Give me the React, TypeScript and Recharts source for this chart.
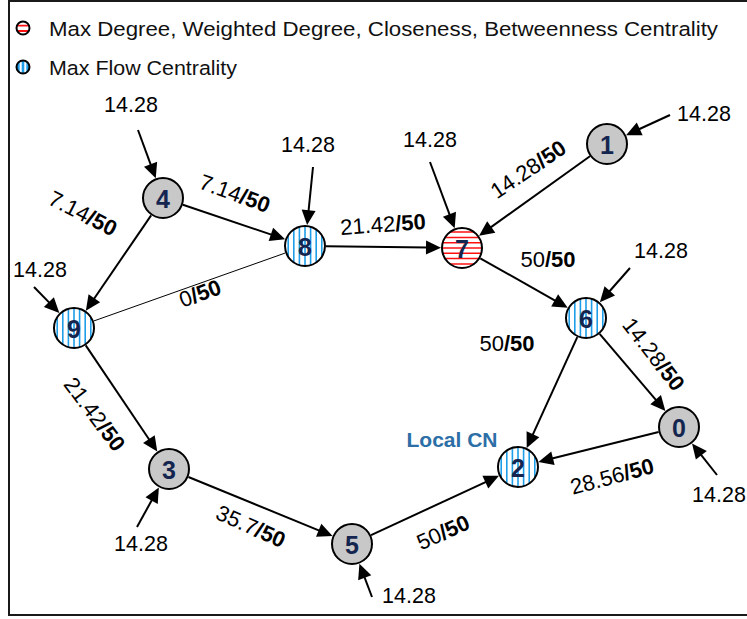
import React from 'react';
import { ScatterChart, Scatter, XAxis, YAxis, ReferenceLine } from 'recharts';

// ---------------- DATA ----------------
const nodeIds = ['0', '1', '2', '3', '4', '5', '6', '7', '8', '9'];
const nodeX = [679, 607, 518, 169, 163, 352, 586, 462, 305, 74];
const nodeY = [427, 144, 467, 469, 198, 544, 318, 248, 246, 328];
// 'degree' = max degree/weighted degree/closeness/betweenness, 'flow' = max flow centrality
const nodeRole = ['none', 'none', 'flow', 'none', 'none', 'none', 'flow', 'degree', 'flow', 'flow'];

const edgeFrom = [1, 4, 4, 8, 8, 7, 6, 6, 9, 3, 5, 0];
const edgeTo = [7, 8, 9, 7, 9, 6, 2, 0, 3, 5, 2, 2];
const edgeFlow = ['14.28', '7.14', '7.14', '21.42', '0', '50', '50', '14.28', '21.42', '35.7', '50', '28.56'];
const edgeCapacity = ['50', '50', '50', '50', '50', '50', '50', '50', '50', '50', '50', '50'];
const edgeDirected = [true, true, true, true, false, true, true, true, true, true, true, true];

const inputNodes = [0, 1, 3, 4, 5, 6, 7, 8, 9];
const inputFlow = ['14.28', '14.28', '14.28', '14.28', '14.28', '14.28', '14.28', '14.28', '14.28'];

const legendLabels = ['Max Degree, Weighted Degree, Closeness, Betweenness Centrality', 'Max Flow Centrality'];
const legendRoles = ['degree', 'flow'];
const sinkLabel = 'Local CN';
const sinkNode = 2;

// ---------------- LAYOUT ----------------
const edgeLabelLayout = [
  { x: 528, y: 169, a: -34 },
  { x: 235, y: 193, a: 20 },
  { x: 83, y: 213, a: 27 },
  { x: 383, y: 224, a: -4 },
  { x: 200, y: 293, a: -20 },
  { x: 548, y: 259, a: 0 },
  { x: 507, y: 343, a: 0 },
  { x: 654, y: 354, a: 52 },
  { x: 95, y: 414, a: 53 },
  { x: 251, y: 526, a: 24 },
  { x: 443, y: 532, a: -24 },
  { x: 612, y: 476, a: -15 },
];
const inputLayout = [
  { sx: 717, sy: 475, lx: 719, ly: 495 },
  { sx: 670, sy: 115, lx: 704, ly: 114 },
  { sx: 137, sy: 527, lx: 141, ly: 544 },
  { sx: 138, sy: 130, lx: 131, ly: 105 },
  { sx: 372, sy: 597, lx: 409, ly: 596 },
  { sx: 630, sy: 268, lx: 661, ly: 251 },
  { sx: 430, sy: 162, lx: 430, ly: 140 },
  { sx: 313, sy: 167, lx: 308, ly: 145 },
  { sx: 34, sy: 287, lx: 40, ly: 270 },
];
const legendLayout = [
  { x: 23, y: 28, w: 669 },
  { x: 23, y: 67, w: 188 },
];
const sinkLabelLayout = { x: 452, y: 439 };

const W = 747;
const H = 619;
const R = 20;
const FONT = 'Arial, "Liberation Sans", sans-serif';
const BLUE = '#1e9ee8';
const RED = '#ff1010';
const NAVY = '#14264f';

// ---------------- SHAPES ----------------
const arrowShape = (startCut: number, endCut: number, head: boolean, sw: number) => (p: any) => {
  const { x1, y1, x2, y2 } = p;
  if ([x1, y1, x2, y2].some((v) => typeof v !== 'number' || isNaN(v))) return <g />;
  const dx = x2 - x1;
  const dy = y2 - y1;
  const len = Math.hypot(dx, dy) || 1;
  const ux = dx / len;
  const uy = dy / len;
  const sx = x1 + ux * startCut;
  const sy = y1 + uy * startCut;
  const ex = x2 - ux * endCut;
  const ey = y2 - uy * endCut;
  const L = 15;
  const hw = 7;
  const bx = ex - ux * L;
  const by = ey - uy * L;
  return (
    <g>
      <line
        x1={sx}
        y1={sy}
        x2={head ? bx + ux * 2 : ex}
        y2={head ? by + uy * 2 : ey}
        stroke="#000"
        strokeWidth={sw}
      />
      {head && (
        <polygon
          points={`${ex},${ey} ${bx - uy * hw},${by + ux * hw} ${bx + uy * hw},${by - ux * hw}`}
          fill="#000"
        />
      )}
    </g>
  );
};

const NodeShape = (p: any) => {
  const { cx, cy, payload } = p;
  const role = payload.role;
  const clipId = `clip-node-${payload.id}`;
  const stripes: React.ReactNode[] = [];
  if (role === 'flow') {
    for (let k = -3; k <= 3; k++) {
      stripes.push(
        <line key={k} x1={cx + k * 5.6} y1={cy - R} x2={cx + k * 5.6} y2={cy + R} stroke={BLUE} strokeWidth={1.6} />
      );
    }
  } else if (role === 'degree') {
    for (let k = -3; k <= 3; k++) {
      stripes.push(
        <line key={k} x1={cx - R} y1={cy + k * 5.3} x2={cx + R} y2={cy + k * 5.3} stroke={RED} strokeWidth={1.5} />
      );
    }
  }
  return (
    <g>
      <defs>
        <clipPath id={clipId}>
          <circle cx={cx} cy={cy} r={R} />
        </clipPath>
      </defs>
      <circle cx={cx} cy={cy} r={R} fill={role === 'none' ? '#c8c8c8' : '#fff'} />
      <g clipPath={`url(#${clipId})`}>{stripes}</g>
      <circle cx={cx} cy={cy} r={R} fill="none" stroke="#000" strokeWidth={2} />
      <text
        x={cx}
        y={cy + 1}
        textAnchor="middle"
        dominantBaseline="central"
        fontFamily={FONT}
        fontWeight="bold"
        fontSize={25}
        fill={NAVY}
      >
        {payload.id}
      </text>
    </g>
  );
};

const EdgeLabelShape = (p: any) => {
  const { cx, cy, payload } = p;
  return (
    <text
      x={cx}
      y={cy}
      transform={`rotate(${payload.a} ${cx} ${cy})`}
      textAnchor="middle"
      dominantBaseline="central"
      fontFamily={FONT}
      fontSize={22}
      fill="#000"
    >
      <tspan>{payload.flow}</tspan>
      <tspan fontWeight="bold">/{payload.cap}</tspan>
    </text>
  );
};

const InputLabelShape = (p: any) => {
  const { cx, cy, payload } = p;
  return (
    <text x={cx} y={cy} textAnchor="middle" dominantBaseline="central" fontFamily={FONT} fontSize={21.5} fill="#000">
      {payload.value}
    </text>
  );
};

const LegendShape = (p: any) => {
  const { cx, cy, payload } = p;
  const r = 6.5;
  const clipId = `clip-legend-${payload.role}`;
  return (
    <g>
      <defs>
        <clipPath id={clipId}>
          <circle cx={cx} cy={cy} r={r} />
        </clipPath>
      </defs>
      <circle cx={cx} cy={cy} r={r} fill={payload.role === 'flow' ? BLUE : '#fff'} />
      <g clipPath={`url(#${clipId})`}>
        {payload.role === 'flow' ? (
          <>
            <line x1={cx - 2.3} y1={cy - r} x2={cx - 2.3} y2={cy + r} stroke="#fff" strokeWidth={2} />
            <line x1={cx + 2.3} y1={cy - r} x2={cx + 2.3} y2={cy + r} stroke="#fff" strokeWidth={2} />
          </>
        ) : (
          <>
            <line x1={cx - r} y1={cy - 2.3} x2={cx + r} y2={cy - 2.3} stroke={RED} strokeWidth={1.8} />
            <line x1={cx - r} y1={cy + 3} x2={cx + r} y2={cy + 3} stroke={RED} strokeWidth={1.8} />
          </>
        )}
      </g>
      <circle cx={cx} cy={cy} r={r} fill="none" stroke="#000" strokeWidth={2} />
      <text
        x={cx + 26}
        y={cy}
        dominantBaseline="central"
        fontFamily={FONT}
        fontSize={20.5}
        fill="#111"
        textLength={payload.w}
        lengthAdjust="spacingAndGlyphs"
      >
        {payload.label}
      </text>
    </g>
  );
};

const SinkLabelShape = (p: any) => {
  const { cx, cy, payload } = p;
  return (
    <text
      x={cx}
      y={cy}
      textAnchor="middle"
      dominantBaseline="central"
      fontFamily={FONT}
      fontWeight="bold"
      fontSize={21}
      fill="#2c6ea6"
    >
      {payload.label}
    </text>
  );
};

// ---------------- BUILD ----------------
const nodeData = nodeIds.map((id, i) => ({ x: nodeX[i], y: nodeY[i], id, role: nodeRole[i] }));
const edgeLabelData = edgeFlow.map((flow, i) => ({
  x: edgeLabelLayout[i].x,
  y: edgeLabelLayout[i].y,
  a: edgeLabelLayout[i].a,
  flow,
  cap: edgeCapacity[i],
}));
const inputLabelData = inputNodes.map((n, i) => ({ x: inputLayout[i].lx, y: inputLayout[i].ly, value: inputFlow[i] }));
const legendData = legendLabels.map((label, i) => ({
  x: legendLayout[i].x,
  y: legendLayout[i].y,
  w: legendLayout[i].w,
  label,
  role: legendRoles[i],
}));
const sinkData = [{ x: sinkLabelLayout.x, y: sinkLabelLayout.y, label: sinkLabel, node: sinkNode }];

export default function App() {
  return (
    <div style={{ position: 'absolute', left: 0, top: 0, width: W, height: H, overflow: 'hidden', background: '#fff' }}>
      <ScatterChart width={W} height={H} margin={{ top: 0, right: 0, bottom: 0, left: 0 }}>
        <XAxis type="number" dataKey="x" domain={[0, W]} hide allowDataOverflow />
        <YAxis type="number" dataKey="y" domain={[0, H]} reversed hide allowDataOverflow />
        {edgeFrom.map((f, i) => (
          <ReferenceLine
            key={`e${i}`}
            segment={[
              { x: nodeX[f], y: nodeY[f] },
              { x: nodeX[edgeTo[i]], y: nodeY[edgeTo[i]] },
            ]}
            stroke="#000"
            ifOverflow="visible"
            shape={arrowShape(R + 1, R + 1, edgeDirected[i], edgeDirected[i] ? 2 : 1)}
          />
        ))}
        {inputNodes.map((n, i) => (
          <ReferenceLine
            key={`in${i}`}
            segment={[
              { x: inputLayout[i].sx, y: inputLayout[i].sy },
              { x: nodeX[n], y: nodeY[n] },
            ]}
            stroke="#000"
            ifOverflow="visible"
            shape={arrowShape(0, R + 1, true, 2)}
          />
        ))}
        <Scatter data={nodeData} shape={NodeShape} isAnimationActive={false} />
        <Scatter data={edgeLabelData} shape={EdgeLabelShape} isAnimationActive={false} />
        <Scatter data={inputLabelData} shape={InputLabelShape} isAnimationActive={false} />
        <Scatter data={legendData} shape={LegendShape} isAnimationActive={false} />
        <Scatter data={sinkData} shape={SinkLabelShape} isAnimationActive={false} />
      </ScatterChart>
      <div
        style={{
          position: 'absolute',
          left: 8,
          top: 0,
          width: W + 10,
          height: 616,
          boxSizing: 'border-box',
          borderTop: '2px solid #1a1a1a',
          borderLeft: '2px solid #1a1a1a',
          borderBottom: '2px solid #1a1a1a',
          pointerEvents: 'none',
        }}
      />
    </div>
  );
}
